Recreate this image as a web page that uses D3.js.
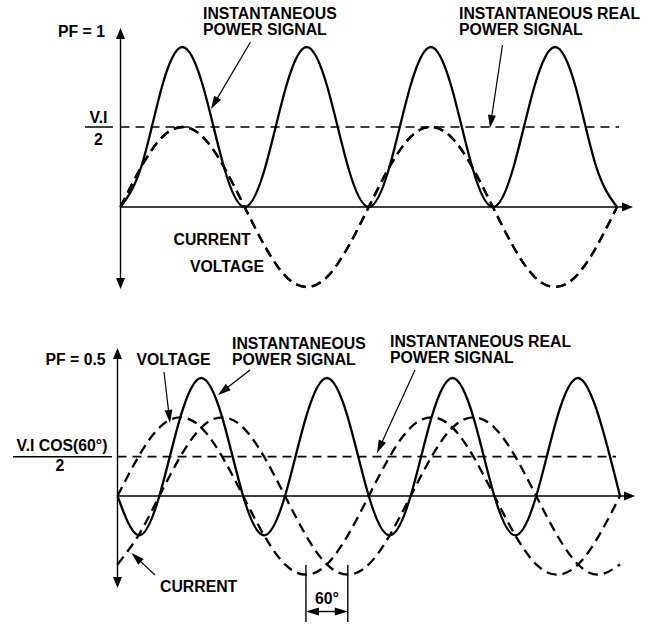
<!DOCTYPE html>
<html>
<head>
<meta charset="UTF-8">
<title>PF = 1 / PF = 0.5 power signals</title>
<script src="https://d3js.org/d3.v7.min.js"></script>
<style>
body { margin: 0; background: #fff; }
text { font-family: "Liberation Sans", Arial, sans-serif; font-weight: bold; font-size: 15.8px; fill: #000; }
</style>
</head>
<body>
<svg id="chart" width="652" height="624"></svg>
<script>

/* Phase angle of the voltage (degrees), one sample every 30 deg over two cycles */
var angles = [0, 30, 60, 90, 120, 150, 180, 210, 240, 270, 300, 330, 360,
              390, 420, 450, 480, 510, 540, 570, 600, 630, 660, 690, 720]

/* PF = 1 : current in phase with voltage */
var voltagePF1 = [0, 0.5, 0.87, 1, 0.87, 0.5, 0, -0.5, -0.87, -1, -0.87, -0.5, 0,
                  0.5, 0.87, 1, 0.87, 0.5, 0, -0.5, -0.87, -1, -0.87, -0.5, 0]
var currentPF1 = [0, 0.5, 0.87, 1, 0.87, 0.5, 0, -0.5, -0.87, -1, -0.87, -0.5, 0,
                  0.5, 0.87, 1, 0.87, 0.5, 0, -0.5, -0.87, -1, -0.87, -0.5, 0]
var powerPF1   = [0, 0.5, 1.5, 2, 1.5, 0.5, 0, 0.5, 1.5, 2, 1.5, 0.5, 0,
                  0.5, 1.5, 2, 1.5, 0.5, 0, 0.5, 1.5, 2, 1.5, 0.5, 0]
var realPowerPF1 = 1

/* PF = 0.5 : current lags voltage by 60 deg */
var voltagePF05 = [0, 0.5, 0.87, 1, 0.87, 0.5, 0, -0.5, -0.87, -1, -0.87, -0.5, 0,
                   0.5, 0.87, 1, 0.87, 0.5, 0, -0.5, -0.87, -1, -0.87, -0.5, 0]
var currentPF05 = [-0.87, -0.5, 0, 0.5, 0.87, 1, 0.87, 0.5, 0, -0.5, -0.87, -1, -0.87,
                   -0.5, 0, 0.5, 0.87, 1, 0.87, 0.5, 0, -0.5, -0.87, -1, -0.87]
var powerPF05   = [0, -0.5, 0, 1, 1.5, 1, 0, -0.5, 0, 1, 1.5, 1, 0,
                   -0.5, 0, 1, 1.5, 1, 0, -0.5, 0, 1, 1.5, 1, 0]
var realPowerPF05 = 0.5
var phaseLag = [270, 330]	// voltage trough and current trough marked by the 60 deg dimension

var svg = d3.select('#chart')

/* filled triangular head with its tip at (tx,ty), pointing away from (fx,fy) */
function head(tx, ty, fx, fy, len, wid) {
	var a = Math.atan2(ty - fy, tx - fx)
	var bx = tx - len * Math.cos(a), by = ty - len * Math.sin(a)
	var px = -Math.sin(a) * wid / 2, py = Math.cos(a) * wid / 2
	svg.append('path')
		.attr('d', 'M' + tx + ',' + ty + 'L' + (bx + px) + ',' + (by + py) + 'L' + (bx - px) + ',' + (by - py) + 'Z')
		.attr('fill', '#000')
}

/* thin leader line with an arrow at its end */
function pointer(x1, y1, x2, y2) {
	var a = Math.atan2(y2 - y1, x2 - x1)
	svg.append('line')
		.attr('x1', x1).attr('y1', y1)
		.attr('x2', x2 - 10 * Math.cos(a)).attr('y2', y2 - 10 * Math.sin(a))
		.attr('stroke', '#000').attr('stroke-width', 1.2)
	head(x2, y2, x1, y1, 13, 8)
}

function label(x, y, lines, anchor) {
	var t = svg.append('text').attr('x', x).attr('y', y).attr('text-anchor', anchor || 'start')
	lines.forEach(function(s, i) {
		t.append('tspan').attr('x', x).attr('dy', i ? 16.3 : 0).text(s)
	})
}

function drawPanel(p) {
	var x = d3.scaleLinear().domain([0, 720]).range(p.xRange)
	var y = d3.scaleLinear().domain(p.yDomain).range(p.yRange)
	var x0 = x(0), y0 = y(0)

	// axes
	svg.append('line').attr('x1', x0).attr('y1', p.axisTop + 9).attr('x2', x0).attr('y2', p.axisBottom - 9)
		.attr('stroke', '#000').attr('stroke-width', 1.4)
	head(x0, p.axisTop, x0, y0, 11, 9)
	head(x0, p.axisBottom, x0, y0, 11, 9)
	svg.append('line').attr('x1', x0).attr('y1', y0).attr('x2', p.axisRight - 9).attr('y2', y0)
		.attr('stroke', '#000').attr('stroke-width', 1.4)
	head(p.axisRight, y0, x0, y0, 11, 9)

	// average (real) power level
	svg.append('line').attr('x1', x0).attr('y1', y(p.real)).attr('x2', p.realEnd).attr('y2', y(p.real))
		.attr('stroke', '#000').attr('stroke-width', 1.7).attr('stroke-dasharray', '9,6')

	var line = d3.line().curve(d3.curveNatural)
		.x(function(d) { return x(d[0]) })
		.y(function(d) { return y(d[1]) })

	var series = [
		{ v: p.current, dash: '10,6' },
		{ v: p.voltage, dash: '10,6' },
		{ v: p.power, dash: null }
	]
	series.forEach(function(s) {
		svg.append('path')
			.datum(angles.map(function(a, i) { return [a, s.v[i]] }))
			.attr('d', line)
			.attr('fill', 'none')
			.attr('stroke', '#000')
			.attr('stroke-width', 2.3)
			.attr('stroke-dasharray', s.dash)
	})
	return { x: x, y: y }
}

/* ---- PF = 1 ---- */
var panel1 = drawPanel({
	xRange: [120.5, 617], yDomain: [0, 2], yRange: [207, 47],
	axisTop: 28, axisBottom: 289, axisRight: 633, realEnd: 619,
	voltage: voltagePF1, current: currentPF1, power: powerPF1, real: realPowerPF1
})
label(58, 37, ['PF = 1'])
label(98.5, 123, ['V.I'], 'middle')
svg.append('line').attr('x1', 85).attr('x2', 113).attr('y1', panel1.y(realPowerPF1)).attr('y2', panel1.y(realPowerPF1))
	.attr('stroke', '#000').attr('stroke-width', 1.5)
label(98.5, 145, ['2'], 'middle')
label(203, 18.5, ['INSTANTANEOUS', 'POWER SIGNAL'])
pointer(250.5, 42, 211, 109)
label(459, 18.5, ['INSTANTANEOUS REAL', 'POWER SIGNAL'])
pointer(502.5, 45, 490, 128)
label(173.5, 245, ['CURRENT'])
label(190, 272, ['VOLTAGE'])

/* ---- PF = 0.5 ---- */
var panel2 = drawPanel({
	xRange: [117.5, 620], yDomain: [0, 1.5], yRange: [496, 378],
	axisTop: 348, axisBottom: 588, axisRight: 635, realEnd: 616,
	voltage: voltagePF05, current: currentPF05, power: powerPF05, real: realPowerPF05
})
label(45.5, 365, ['PF = 0.5'])
label(136.5, 365, ['VOLTAGE'])
pointer(164, 372, 170, 423)
label(232, 348.5, ['INSTANTANEOUS', 'POWER SIGNAL'])
pointer(250, 370, 218, 395)
label(390, 347, ['INSTANTANEOUS REAL', 'POWER SIGNAL'])
pointer(415, 370, 377, 453)
label(62, 450.5, ['V.I COS(60°)'], 'middle')
svg.append('line').attr('x1', 13).attr('x2', 112).attr('y1', panel2.y(realPowerPF05)).attr('y2', panel2.y(realPowerPF05))
	.attr('stroke', '#000').attr('stroke-width', 1.5)
label(60, 471, ['2'], 'middle')
label(160, 591.5, ['CURRENT'])
pointer(155, 575, 131.5, 553)

/* 60 deg dimension between voltage and current troughs */
var dx1 = panel2.x(phaseLag[0]), dx2 = panel2.x(phaseLag[1])
;[dx1, dx2].forEach(function(d) {
	svg.append('line').attr('x1', d).attr('x2', d).attr('y1', 565).attr('y2', 622)
		.attr('stroke', '#000').attr('stroke-width', 1.4)
})
svg.append('line').attr('x1', dx1 + 10).attr('x2', dx2 - 10).attr('y1', 611.5).attr('y2', 611.5)
	.attr('stroke', '#000').attr('stroke-width', 1.4)
head(dx1, 611.5, dx2, 611.5, 13, 8)
head(dx2, 611.5, dx1, 611.5, 13, 8)
label((dx1 + dx2) / 2, 603.5, ['60°'], 'middle')

</script>
</body>
</html>
